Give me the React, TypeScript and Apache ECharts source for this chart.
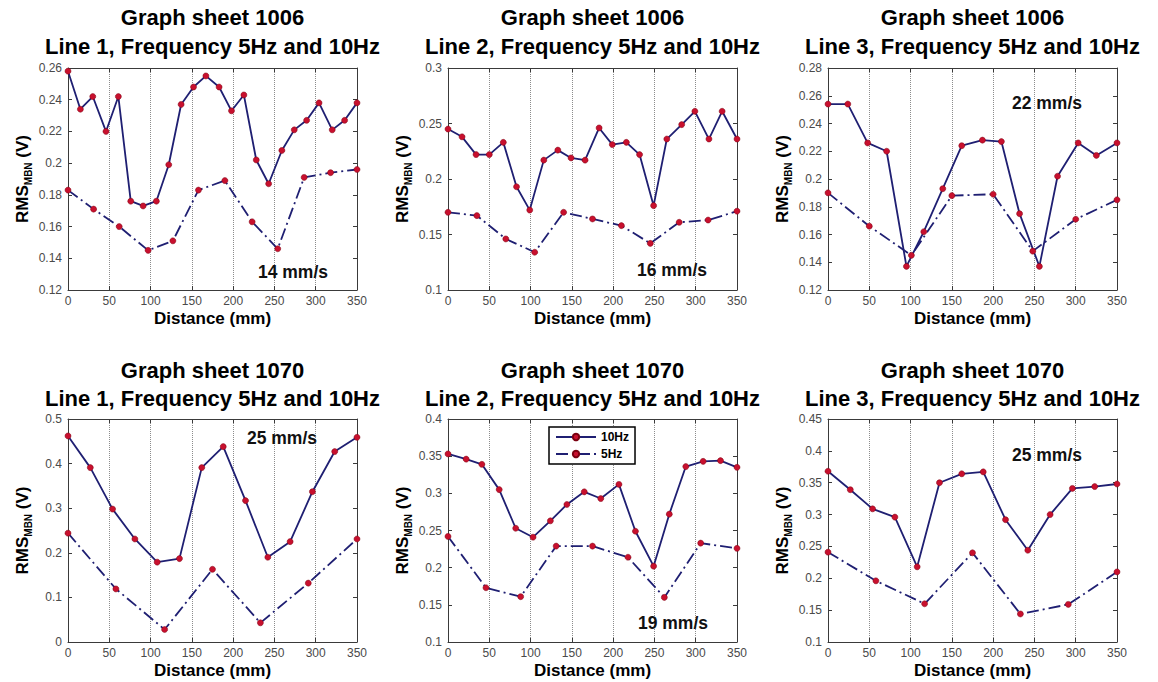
import React, { useEffect, useRef } from "react";
import * as echarts from "echarts";

const FONT = "'Liberation Sans', Arial, Helvetica, sans-serif";

// ---- Sheet 1006, Line 1 (14 mm/s) ----
const s1006L1_10Hz_x = [0, 15, 30, 46, 61, 76, 91, 107, 122, 137, 152, 167, 183, 198, 213, 228, 243, 259, 274, 289, 304, 320, 335, 350];
const s1006L1_10Hz_y = [0.258, 0.234, 0.242, 0.22, 0.242, 0.176, 0.173, 0.176, 0.199, 0.237, 0.248, 0.255, 0.248, 0.233, 0.243, 0.202, 0.187, 0.208, 0.221, 0.227, 0.238, 0.221, 0.227, 0.238];
const s1006L1_5Hz_x = [0, 31, 62, 97, 127, 158, 190, 223, 254, 286, 318, 350];
const s1006L1_5Hz_y = [0.183, 0.171, 0.16, 0.145, 0.151, 0.183, 0.189, 0.163, 0.146, 0.191, 0.194, 0.196];

// ---- Sheet 1006, Line 2 (16 mm/s) ----
const s1006L2_10Hz_x = [0, 17, 34, 50, 67, 83, 99, 116, 133, 149, 166, 183, 199, 216, 232, 249, 265, 283, 299, 316, 332, 350];
const s1006L2_10Hz_y = [0.245, 0.238, 0.222, 0.222, 0.233, 0.193, 0.172, 0.217, 0.226, 0.219, 0.217, 0.246, 0.231, 0.233, 0.222, 0.176, 0.236, 0.249, 0.261, 0.236, 0.261, 0.236];
const s1006L2_5Hz_x = [0, 35, 70, 105, 140, 175, 210, 245, 280, 315, 350];
const s1006L2_5Hz_y = [0.17, 0.167, 0.146, 0.134, 0.17, 0.164, 0.158, 0.142, 0.161, 0.163, 0.171];

// ---- Sheet 1006, Line 3 (22 mm/s) ----
const s1006L3_10Hz_x = [0, 24, 48, 71, 95, 116, 139, 162, 187, 210, 232, 256, 278, 303, 325, 350];
const s1006L3_10Hz_y = [0.254, 0.254, 0.226, 0.22, 0.137, 0.162, 0.193, 0.224, 0.228, 0.227, 0.175, 0.137, 0.202, 0.226, 0.217, 0.226];
const s1006L3_5Hz_x = [0, 50, 101, 150, 200, 248, 300, 350];
const s1006L3_5Hz_y = [0.19, 0.166, 0.145, 0.188, 0.189, 0.148, 0.171, 0.185];

// ---- Sheet 1070, Line 1 (25 mm/s) ----
const s1070L1_10Hz_x = [0, 27, 54, 81, 108, 135, 162, 188, 215, 242, 269, 296, 323, 350];
const s1070L1_10Hz_y = [0.462, 0.391, 0.298, 0.231, 0.179, 0.187, 0.391, 0.438, 0.317, 0.19, 0.225, 0.337, 0.427, 0.459];
const s1070L1_5Hz_x = [0, 58, 117, 175, 233, 291, 350];
const s1070L1_5Hz_y = [0.244, 0.119, 0.028, 0.163, 0.043, 0.132, 0.231];

// ---- Sheet 1070, Line 2 (19 mm/s) ----
const s1070L2_10Hz_x = [0, 22, 41, 62, 82, 103, 124, 144, 165, 185, 207, 227, 249, 268, 288, 309, 330, 350];
const s1070L2_10Hz_y = [0.353, 0.346, 0.339, 0.305, 0.253, 0.241, 0.263, 0.285, 0.302, 0.293, 0.312, 0.249, 0.202, 0.272, 0.336, 0.343, 0.344, 0.335];
const s1070L2_5Hz_x = [0, 46, 88, 131, 175, 218, 262, 306, 350];
const s1070L2_5Hz_y = [0.242, 0.173, 0.161, 0.229, 0.229, 0.214, 0.16, 0.233, 0.226];

// ---- Sheet 1070, Line 3 (25 mm/s) ----
const s1070L3_10Hz_x = [0, 27, 54, 81, 108, 135, 162, 188, 215, 242, 269, 296, 323, 350];
const s1070L3_10Hz_y = [0.368, 0.339, 0.309, 0.296, 0.218, 0.35, 0.364, 0.367, 0.292, 0.244, 0.3, 0.341, 0.344, 0.348];
const s1070L3_5Hz_x = [0, 58, 117, 175, 233, 291, 350];
const s1070L3_5Hz_y = [0.241, 0.196, 0.16, 0.24, 0.144, 0.159, 0.21];

// ---- Panel texts and axis ranges ----
const sheetTitles = ["Graph sheet 1006", "Graph sheet 1006", "Graph sheet 1006", "Graph sheet 1070", "Graph sheet 1070", "Graph sheet 1070"];
const lineTitles = [
  "Line 1, Frequency 5Hz and 10Hz",
  "Line 2, Frequency 5Hz and 10Hz",
  "Line 3, Frequency 5Hz and 10Hz",
  "Line 1, Frequency 5Hz and 10Hz",
  "Line 2, Frequency 5Hz and 10Hz",
  "Line 3, Frequency 5Hz and 10Hz",
];
const speedLabels = ["14 mm/s", "16 mm/s", "22 mm/s", "25 mm/s", "19 mm/s", "25 mm/s"];
const yMin = [0.12, 0.1, 0.12, 0, 0.1, 0.1];
const yMax = [0.26, 0.3, 0.28, 0.5, 0.4, 0.45];
const yStep = [0.02, 0.05, 0.02, 0.1, 0.05, 0.05];
const xMin = 0;
const xMax = 350;
const xStep = 50;
const seriesNames = ["10Hz", "5Hz"];

const xs10 = [s1006L1_10Hz_x, s1006L2_10Hz_x, s1006L3_10Hz_x, s1070L1_10Hz_x, s1070L2_10Hz_x, s1070L3_10Hz_x];
const ys10 = [s1006L1_10Hz_y, s1006L2_10Hz_y, s1006L3_10Hz_y, s1070L1_10Hz_y, s1070L2_10Hz_y, s1070L3_10Hz_y];
const xs5 = [s1006L1_5Hz_x, s1006L2_5Hz_x, s1006L3_5Hz_x, s1070L1_5Hz_x, s1070L2_5Hz_x, s1070L3_5Hz_x];
const ys5 = [s1006L1_5Hz_y, s1006L2_5Hz_y, s1006L3_5Hz_y, s1070L1_5Hz_y, s1070L2_5Hz_y, s1070L3_5Hz_y];

// ---- Layout (pixels) ----
const COL_LEFT = [68, 448, 828];
const COL_WIDTH = 289;
const ROW_TOP = [68, 419];
const ROW_HEIGHT = [222, 223];
const TITLE_Y = [[17, 46], [370, 398]];
const SPEED_POS = [[293, 272], [672, 270], [1047, 103], [282, 438], [673, 623], [1047, 455]];

const LINE_COLOR = "#1f1f72";
const MARK_COLOR = "#c8102e";
const AXIS_COLOR = "#3a3a3a";

const zip = (a: number[], b: number[]) => a.map((v, i) => [v, b[i]]);

function buildOption() {
  const grid: any[] = [];
  const xAxis: any[] = [];
  const yAxis: any[] = [];
  const series: any[] = [];
  const graphic: any[] = [];

  const axisLine = { show: true, onZero: false, lineStyle: { color: AXIS_COLOR, width: 1 } };
  const axisTick = { show: true, inside: true, length: 4, lineStyle: { color: AXIS_COLOR } };
  const tickLabel = { color: "#4a4a4a", fontSize: 12, fontFamily: FONT };

  for (let i = 0; i < 6; i++) {
    const col = i % 3;
    const row = Math.floor(i / 3);
    grid.push({ left: COL_LEFT[col], top: ROW_TOP[row], width: COL_WIDTH, height: ROW_HEIGHT[row] });

    xAxis.push({
      gridIndex: i,
      type: "value",
      position: "bottom",
      min: xMin,
      max: xMax,
      interval: xStep,
      name: "Distance (mm)",
      nameLocation: "middle",
      nameGap: 20,
      nameTextStyle: { fontSize: 17, fontWeight: "bold", fontFamily: FONT, color: "#000" },
      axisLine,
      axisTick,
      axisLabel: { ...tickLabel, margin: 5 },
      splitLine: { show: true, lineStyle: { type: "dotted", color: "#8c8c8c", width: 1 } },
    });
    xAxis.push({
      gridIndex: i,
      type: "value",
      position: "top",
      min: xMin,
      max: xMax,
      interval: xStep,
      axisLine,
      axisTick,
      axisLabel: { show: false },
      splitLine: { show: false },
    });

    yAxis.push({
      gridIndex: i,
      type: "value",
      position: "left",
      min: yMin[i],
      max: yMax[i],
      interval: yStep[i],
      name: "{a|RMS}{s|MBN}{a| (V)}",
      nameLocation: "middle",
      nameRotate: 90,
      nameGap: 35,
      nameTextStyle: {
        rich: {
          a: { fontSize: 17, fontWeight: "bold", fontFamily: FONT, color: "#000", lineHeight: 22 },
          s: { fontSize: 10, fontWeight: "bold", fontFamily: FONT, color: "#000", lineHeight: 10, verticalAlign: "bottom" },
        },
      },
      axisLine,
      axisTick,
      axisLabel: { ...tickLabel, margin: 6 },
      splitLine: { show: false },
    });
    yAxis.push({
      gridIndex: i,
      type: "value",
      position: "right",
      min: yMin[i],
      max: yMax[i],
      interval: yStep[i],
      axisLine,
      axisTick,
      axisLabel: { show: false },
      splitLine: { show: false },
    });

    const common = {
      type: "line",
      xAxisIndex: 2 * i,
      yAxisIndex: 2 * i,
      symbol: "circle",
      symbolSize: 6,
      itemStyle: { color: MARK_COLOR, borderColor: "#7a0010", borderWidth: 0.5 },
      z: 3,
    };
    series.push({
      ...common,
      name: seriesNames[0],
      data: zip(xs10[i], ys10[i]),
      lineStyle: { color: LINE_COLOR, width: 1.8, type: "solid" },
    });
    series.push({
      ...common,
      name: seriesNames[1],
      data: zip(xs5[i], ys5[i]),
      lineStyle: { color: LINE_COLOR, width: 1.8, type: [12, 4, 2, 4] },
    });

    const cx = COL_LEFT[col] + COL_WIDTH / 2;
    graphic.push({
      type: "text",
      x: cx,
      y: TITLE_Y[row][0],
      style: { text: sheetTitles[i], align: "center", verticalAlign: "middle", font: `bold 22px ${FONT}`, fill: "#000" },
    });
    graphic.push({
      type: "text",
      x: cx,
      y: TITLE_Y[row][1],
      style: { text: lineTitles[i], align: "center", verticalAlign: "middle", font: `bold 22px ${FONT}`, fill: "#000" },
    });
    graphic.push({
      type: "text",
      x: SPEED_POS[i][0],
      y: SPEED_POS[i][1],
      z: 10,
      style: { text: speedLabels[i], align: "center", verticalAlign: "middle", font: `bold 17.5px ${FONT}`, fill: "#111" },
    });
  }

  return {
    animation: false,
    backgroundColor: "#ffffff",
    grid,
    xAxis,
    yAxis,
    series,
    graphic,
    legend: {
      data: seriesNames,
      left: 549,
      top: 427,
      orient: "vertical",
      selectedMode: false,
      itemWidth: 40,
      itemHeight: 8,
      itemGap: 5,
      padding: [4, 6, 4, 6],
      borderColor: "#000",
      borderWidth: 1.5,
      borderRadius: 0,
      backgroundColor: "#fff",
      textStyle: { fontSize: 12, fontWeight: "bold", fontFamily: FONT, color: "#000" },
    },
  };
}

export default function App() {
  const ref = useRef<HTMLDivElement>(null);

  useEffect(() => {
    if (!ref.current) return;
    const chart = echarts.init(ref.current, null, { renderer: "svg" });
    chart.setOption(buildOption() as any);
    return () => chart.dispose();
  }, []);

  return (
    <div
      ref={ref}
      style={{ position: "absolute", left: 0, top: 0, width: 1158, height: 682, background: "#fff" }}
    />
  );
}
